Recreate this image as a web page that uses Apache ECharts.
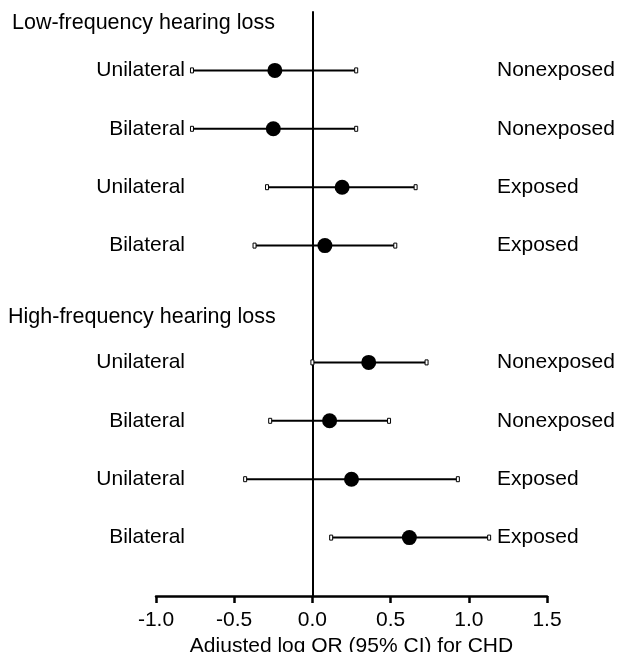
<!DOCTYPE html>
<html>
<head>
<meta charset="utf-8">
<script src="https://cdn.jsdelivr.net/npm/echarts@6/dist/echarts.min.js"></script>
<style>
html,body{margin:0;padding:0;background:#fff;}
#chart{width:619px;height:652px;}
</style>
</head>
<body>
<div id="chart"></div>
<script>
// ---- data ----
const groupTitles = ['Low-frequency hearing loss', 'High-frequency hearing loss'];
const sideLabels = ['Unilateral', 'Bilateral', 'Unilateral', 'Bilateral', 'Unilateral', 'Bilateral', 'Unilateral', 'Bilateral'];
const exposureLabels = ['Nonexposed', 'Nonexposed', 'Exposed', 'Exposed', 'Nonexposed', 'Nonexposed', 'Exposed', 'Exposed'];
const rowPositions = [9, 8, 7, 6, 4, 3, 2, 1];
const estimates = [-0.24, -0.25, 0.19, 0.08, 0.36, 0.11, 0.25, 0.62];
const lowerCI = [-0.77, -0.77, -0.29, -0.37, 0.00, -0.27, -0.43, 0.12];
const upperCI = [0.28, 0.28, 0.66, 0.53, 0.73, 0.49, 0.93, 1.13];
const xMin = -1.0, xMax = 1.5, xStep = 0.5;
const xTitle = 'Adjusted log OR (95% CI) for CHD';

const FONT = '"Liberation Sans", Arial, sans-serif';
const chart = echarts.init(document.getElementById('chart'), null, {renderer: 'canvas'});

const barData = rowPositions.map((p, i) => [lowerCI[i], upperCI[i], p, i]);
const dotData = rowPositions.map((p, i) => [estimates[i], p]);

function renderBar(params, api) {
  const lo = api.value(0), hi = api.value(1), pos = api.value(2), idx = api.value(3);
  const a = api.coord([lo, pos]);
  const b = api.coord([hi, pos]);
  const cs = params.coordSys;
  const cap = (pt) => ({
    type: 'rect',
    shape: {x: pt[0] - 1.5, y: pt[1] - 2.5, width: 3, height: 5},
    style: {fill: '#fff', stroke: '#000', lineWidth: 1}
  });
  return {
    type: 'group',
    children: [
      {type: 'line', shape: {x1: a[0], y1: a[1], x2: b[0], y2: b[1]}, style: {stroke: '#000', lineWidth: 2}},
      cap(a), cap(b),
      {type: 'text', style: {text: sideLabels[idx], x: cs.x + 29, y: a[1], align: 'right', verticalAlign: 'middle',
        font: '21px ' + FONT, fill: '#000'}},
      {type: 'text', style: {text: exposureLabels[idx], x: cs.x + cs.width - 50, y: a[1], align: 'left', verticalAlign: 'middle',
        font: '21px ' + FONT, fill: '#000'}}
    ]
  };
}

chart.setOption({
  animation: false,
  backgroundColor: '#fff',
  grid: {left: 156, right: 72, top: 12, bottom: 56, containLabel: false, outerBoundsMode: 'none'},
  xAxis: {
    type: 'value', min: xMin, max: xMax, interval: xStep,
    name: xTitle, nameLocation: 'middle', nameGap: 33,
    nameTextStyle: {fontFamily: FONT, fontSize: 21, color: '#000'},
    axisLine: {show: true, onZero: false, lineStyle: {color: '#000', width: 2.5}},
    axisTick: {show: true, length: 7, lineStyle: {color: '#000', width: 2.5}},
    axisLabel: {fontFamily: FONT, fontSize: 21, color: '#000', margin: 14, formatter: v => v.toFixed(1)},
    splitLine: {show: false}
  },
  yAxis: {
    type: 'value', min: 0, max: 10,
    axisLine: {show: true, onZero: true, lineStyle: {color: '#000', width: 2}},
    axisTick: {show: false}, axisLabel: {show: false}, splitLine: {show: false}
  },
  graphic: [
    {type: 'text', left: 12, top: 12, style: {text: groupTitles[0], font: '21.5px ' + FONT, fill: '#000'}},
    {type: 'text', left: 8, top: 306, style: {text: groupTitles[1], font: '21.5px ' + FONT, fill: '#000'}}
  ],
  series: [
    {type: 'custom', renderItem: renderBar, data: barData, encode: {x: [0, 1], y: 2}, z: 2, silent: true},
    {type: 'scatter', data: dotData, symbol: 'circle', symbolSize: 15, itemStyle: {color: '#000', opacity: 1}, z: 3, silent: true}
  ]
});
</script>
</body>
</html>
